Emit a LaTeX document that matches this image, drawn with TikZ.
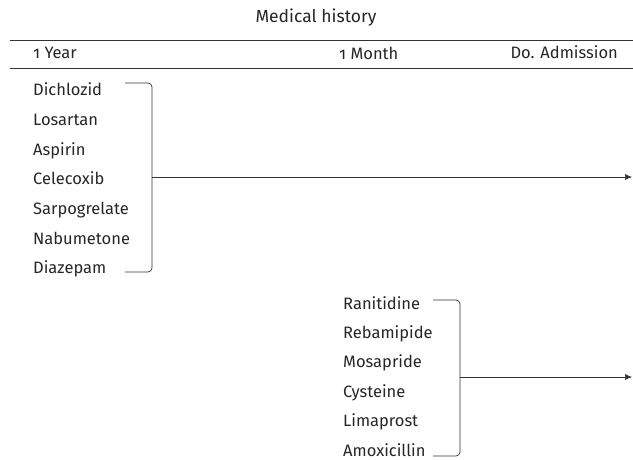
\documentclass[tikz,border=0pt]{standalone}
\usepackage{fontspec}
\setmainfont{Fira Sans}[Numbers=OldStyle]
\usetikzlibrary{arrows.meta, positioning}

\begin{document}
\begin{tikzpicture}[
    x=1pt, y=1pt,
    heading/.style={inner sep=0pt, font=\fontsize{16.5}{18}\selectfont, text=black!85},
    drug/.style={anchor=base west, inner sep=0pt, font=\fontsize{16.5}{18}\selectfont, text=black!85},
    rule/.style={line width=0.9pt, black!80},
    bracket/.style={line width=0.7pt, black!80, rounded corners=4pt},
    arrow/.style={-{Latex[length=7pt, width=6pt]}, line width=0.7pt, black!80}
]
\useasboundingbox (0,0) rectangle (633,-460);

% ==== Header ====
\node[heading, anchor=base, font=\fontsize{17.5}{19}\selectfont] (title) at (316,-23) {Medical history};
\coordinate (rulestartA) at (10,-40);
\coordinate (ruleendA) at (633,-40);
\coordinate (rulestartB) at (10,-68);
\coordinate (ruleendB) at (633,-68);
\draw[rule] (rulestartA) -- (ruleendA);
\draw[rule] (rulestartB) -- (ruleendB);
\node[heading, anchor=base west] (year) at (33,-59) {1 Year};
\node[heading, anchor=base west] (month) at (339,-59.5) {1 Month};
\node[heading, anchor=base east] (admission) at (618,-59) {Do. Admission};

% ==== Drugs over one year ====
\node[drug] (dichlozid) at (33,-96) {Dichlozid};
\node[drug] (losartan) at ([yshift=-29.6pt]dichlozid.base west) {Losartan};
\node[drug] (aspirin) at ([yshift=-29.6pt]losartan.base west) {Aspirin};
\node[drug] (celecoxib) at ([yshift=-29.6pt]aspirin.base west) {Celecoxib};
\node[drug] (sarpogrelate) at ([yshift=-29.6pt]celecoxib.base west) {Sarpogrelate};
\node[drug] (nabumetone) at ([yshift=-29.6pt]sarpogrelate.base west) {Nabumetone};
\node[drug] (diazepam) at ([yshift=-29.6pt]nabumetone.base west) {Diazepam};

% ==== Drugs over one month ====
\node[drug] (ranitidine) at (343,-309) {Ranitidine};
\node[drug] (rebamipide) at ([yshift=-29.4pt]ranitidine.base west) {Rebamipide};
\node[drug] (mosapride) at ([yshift=-29.4pt]rebamipide.base west) {Mosapride};
\node[drug] (cysteine) at ([yshift=-29.4pt]mosapride.base west) {Cysteine};
\node[drug] (limaprost) at ([yshift=-29.4pt]cysteine.base west) {Limaprost};
\node[drug] (amoxicillin) at ([yshift=-29.4pt]limaprost.base west) {Amoxicillin};

% ==== Brackets ====
\coordinate (yearjoin) at (152,-177);
\coordinate (monthjoin) at (460,-377);
\coordinate (yearend) at (632,-177);
\coordinate (monthend) at (632,-377);
\draw[bracket] (125,-83) -| (yearjoin) |- (125,-272);
\draw[bracket] (433,-300) -| (monthjoin) |- (433,-456);

% ==== Arrows ====
\draw[arrow] (yearjoin) -- (yearend);
\draw[arrow] (monthjoin) -- (monthend);

\end{tikzpicture}
\end{document}
